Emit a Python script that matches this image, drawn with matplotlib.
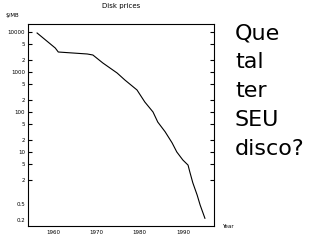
import numpy as np
import matplotlib
matplotlib.use("Agg")
import matplotlib.pyplot as plt

# preço do disco em $/MB
years = [1956.3, 1960.5, 1961.2, 1967.9, 1969.2, 1971.5, 1974.8, 1976.6, 1979.4,
         1981.2, 1983.1, 1984.2, 1985.9, 1987.5, 1988.6, 1990.0, 1991.2, 1991.6,
         1992.3, 1993.3, 1994.0, 1995.1]
prices = [9440, 3980, 3160, 2820, 2660, 1680, 944, 630, 355,
          178, 100, 56, 32, 17, 10, 6.3, 4.7, 3.2,
          1.7, 0.84, 0.47, 0.22]

ytick_vals = [10000, 5000, 2000, 1000, 500, 200, 100, 50, 20, 10, 5, 2, 0.5, 0.2]
ytick_labels = ['10000', '5', '2', '1000', '5', '2', '100', '5', '2', '10', '5', '2', '0.5', '0.2']
xtick_vals = [1960, 1970, 1980, 1990]
xtick_labels = ['1960', '1970', '1980', '1990']

fig = plt.figure(figsize=(3.2, 2.4), dpi=100)
ax = fig.add_axes([28/320, 1 - 226/240, (214 - 28)/320, (226 - 24)/240])

ax.plot(years, prices, color='black', lw=0.8)
ax.set_yscale('log')
ax.set_xlim(1954.2, 1997.2)
ax.set_ylim(0.141, 15850)

ax.set_yticks(ytick_vals)
ax.set_yticklabels(ytick_labels)
ax.yaxis.set_minor_locator(matplotlib.ticker.NullLocator())
ax.tick_params(axis='y', which='major', direction='in', length=3, width=0.8,
               left=True, right=True, labelsize=4, pad=2)
for t in ax.yaxis.get_major_ticks()[-2:]:
    t.tick1line.set_visible(False)
    t.tick2line.set_visible(False)

ax.set_xticks(xtick_vals)
ax.set_xticklabels(xtick_labels)
ax.tick_params(axis='x', which='major', length=0, labelsize=4, pad=3)
ax.set_xticks([1960, 1970], minor=True)
ax.tick_params(axis='x', which='minor', direction='in', length=3, width=0.8,
               top=True, bottom=True)

for s in ax.spines.values():
    s.set_linewidth(0.8)

fig.text(121/320, 1 - 6/240, 'Disk prices', ha='center', va='center', fontsize=5)
fig.text(6/320, 1 - 15/240, '$/MB', ha='left', va='center', fontsize=4)
fig.text(222/320, 1 - 227/240, 'Year', ha='left', va='center', fontsize=4)

frase = ['Que', 'tal', 'ter', 'SEU', 'disco?']
for i, w in enumerate(frase):
    fig.text(235/320, 1 - (33 + 29 * i)/240, w, ha='left', va='center', fontsize=16)

fig.savefig('out.png', dpi=100)
